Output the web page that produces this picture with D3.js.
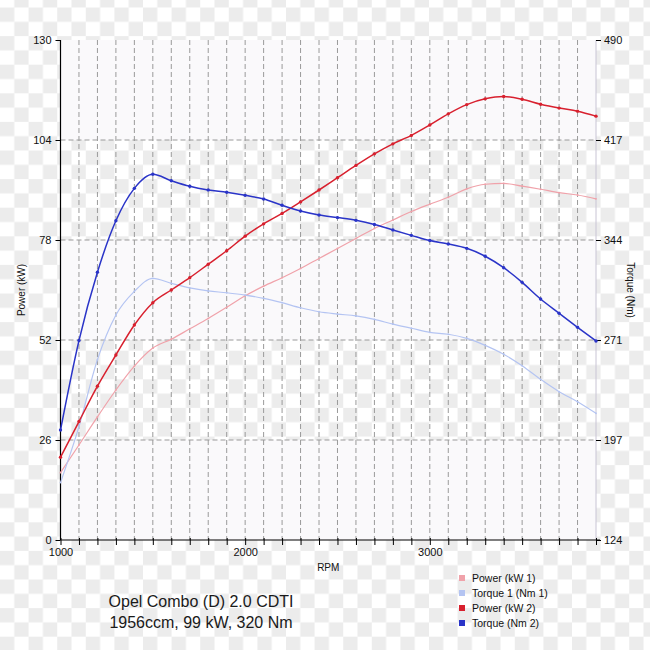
<!DOCTYPE html>
<html>
<head>
<meta charset="utf-8">
<script src="https://cdn.jsdelivr.net/npm/d3@7"></script>
<style>
html,body{margin:0;padding:0;background:#fff;}
svg{display:block;font-family:"Liberation Sans",Arial,sans-serif;}
</style>
</head>
<body>
<svg id="chart" width="650" height="650"></svg>
<script>
// ---- data ----
const rpm = [1000,1100,1200,1300,1400,1500,1600,1700,1800,1900,2000,2100,2200,2300,2400,2500,2600,2700,2800,2900,3000,3100,3200,3300,3400,3500,3600,3700,3800,3900];
const power1 = [17.5,24.7,32.0,39.0,45.2,49.9,52.2,54.9,57.6,60.5,63.5,66.0,68.2,70.6,73.2,75.8,78.4,81.0,83.2,85.4,87.3,89.1,91.3,92.5,92.7,92.0,91.2,90.3,89.7,88.7];
const torque1 = [166,207,256,288.7,306,315.5,311.9,308.5,306.3,305,303.3,300.9,297.7,294,291.1,289.4,288,285.5,282,279,276,274.6,271.6,266.5,260,251.5,241.6,232.6,225.2,216.7];
const power2 = [21.5,30.8,40.0,48.1,55.9,61.7,65.0,68.2,71.7,75.2,79.0,82.2,84.9,87.9,91.0,94.2,97.4,100.4,103.0,105.2,107.9,110.8,113.2,114.7,115.3,114.6,113.3,112.3,111.5,110.2];
const torque2 = [204.5,270,320,357.7,381.4,391.7,387,382.9,380.2,378.5,376.3,373.6,369,364.8,361.9,360,358,355,350.9,347,343.2,340.7,337.5,331.7,323.3,312.6,300.4,290,279.7,269.7];
const leftTicks = [0,26,52,78,104,130];
const rightTickLabels = ["124","197","271","344","417","490"];
const xLabelTicks = [1000,2000,3000];
const seriesNames = ["Power (kW 1)","Torque 1 (Nm 1)","Power (kW 2)","Torque (Nm 2)"];
const seriesColors = ["#f0a2aa","#b4c4f2","#d8202e","#2a34c8"];
const titleLines = ["Opel Combo (D) 2.0 CDTI","1956ccm, 99 kW, 320 Nm"];

// ---- layout ----
const svg = d3.select("#chart");
const L = 60.5, R = 596, T = 40, B = 540;
const x = d3.scaleLinear().domain([1000,3900]).range([L,R]);
const yL = d3.scaleLinear().domain([0,130]).range([B,T]);
const yR = d3.scaleLinear().domain([124,490]).range([B,T]);

// checkerboard background
const defs = svg.append("defs");
const cs = 14.3;
const pat = defs.append("pattern").attr("id","chk").attr("patternUnits","userSpaceOnUse")
  .attr("x",0).attr("y",7.5).attr("width",cs*2).attr("height",cs*2);
pat.append("rect").attr("width",cs*2).attr("height",cs*2).attr("fill","#ffffff");
pat.append("rect").attr("x",0).attr("y",0).attr("width",cs).attr("height",cs).attr("fill","#ececec");
pat.append("rect").attr("x",cs).attr("y",cs).attr("width",cs).attr("height",cs).attr("fill","#ececec");
svg.append("rect").attr("width",650).attr("height",650).attr("fill","url(#chk)");

// light bands in plot area
const bands = [[104,130],[52,78],[0,26]];
svg.append("g").selectAll("rect").data(bands).join("rect")
  .attr("x",L).attr("width",R-L)
  .attr("y",d=>yL(d[1])).attr("height",d=>yL(d[0])-yL(d[1]))
  .attr("fill","#faf9fb");

// vertical grid
const gridX = rpm.filter(v=>v>1000 && v<3900);
svg.append("g").selectAll("line").data(gridX).join("line")
  .attr("x1",d=>x(d)).attr("x2",d=>x(d)).attr("y1",T).attr("y2",B)
  .attr("stroke","#9a9a9a").attr("stroke-width",1).attr("stroke-dasharray","5,3");
// horizontal grid
svg.append("g").selectAll("line").data(leftTicks.filter(v=>v>0&&v<130)).join("line")
  .attr("x1",L).attr("x2",R).attr("y1",d=>yL(d)).attr("y2",d=>yL(d))
  .attr("stroke","#9a9a9a").attr("stroke-width",1).attr("stroke-dasharray","5,3");

// right axis line (light)
svg.append("line").attr("x1",R).attr("x2",R).attr("y1",T).attr("y2",B)
  .attr("stroke","#c8c4d4").attr("stroke-width",1);

// axes
const axL = d3.axisLeft(yL).tickValues(leftTicks).tickSize(5).tickPadding(4);
const gL = svg.append("g").attr("transform",`translate(${L},0)`).call(axL);
const rightVals = rightTickLabels.map((s,i)=>124 + i*(490-124)/5);
const axR = d3.axisRight(yR).tickValues(rightVals).tickSize(5).tickPadding(3)
  .tickFormat((d,i)=>rightTickLabels[i]);
const gR = svg.append("g").attr("transform",`translate(${R},0)`).call(axR);
gR.select(".domain").remove();
const axB = d3.axisBottom(x).tickValues(rpm).tickSize(5).tickPadding(3)
  .tickFormat(d=>xLabelTicks.includes(d)?d:"");
const gB = svg.append("g").attr("transform",`translate(0,${B})`).call(axB);
gB.selectAll(".tick line").attr("y1",-2);
[gL,gR,gB].forEach(g=>{
  g.selectAll("text").attr("font-size",11).attr("fill","#111").attr("font-family","Liberation Sans, Arial, sans-serif");
  g.selectAll("line").attr("stroke","#000");
  g.select(".domain").attr("stroke","#000").attr("stroke-width",1.2);
});
gL.select(".domain").attr("d",`M0,${T}V${B}`);
gB.select(".domain").attr("d",`M${L},0H${R+4}`);

// axis titles
svg.append("text").attr("transform",`translate(25,${(T+B)/2}) rotate(-90)`)
  .attr("text-anchor","middle").attr("font-size",10).attr("fill","#111").text("Power (kW)");
svg.append("text").attr("transform",`translate(627,${(T+B)/2}) rotate(90)`)
  .attr("text-anchor","middle").attr("font-size",10).attr("fill","#111").text("Torque (Nm)");
svg.append("text").attr("x",(L+R)/2).attr("y",571).attr("text-anchor","middle")
  .attr("font-size",10).attr("fill","#111").text("RPM");

// series
const series = [
  {vals:power1, y:yL, color:seriesColors[0], w:1.2, r:0.9},
  {vals:torque1, y:yR, color:seriesColors[1], w:1.2, r:0.9},
  {vals:power2, y:yL, color:seriesColors[2], w:1.5, r:1.7},
  {vals:torque2, y:yR, color:seriesColors[3], w:1.5, r:1.7}
];
series.forEach(s=>{
  const pts = rpm.map((r,i)=>[r,s.vals[i]]);
  const line = d3.line().x(d=>x(d[0])).y(d=>s.y(d[1])).curve(d3.curveMonotoneX);
  svg.append("path").datum(pts).attr("d",line).attr("fill","none")
    .attr("stroke",s.color).attr("stroke-width",s.w);
  svg.append("g").selectAll("circle").data(pts).join("circle")
    .attr("cx",d=>x(d[0])).attr("cy",d=>s.y(d[1])).attr("r",s.r).attr("fill",s.color);
});

// title
svg.append("g").selectAll("text").data(titleLines).join("text")
  .attr("x",201).attr("y",(d,i)=>607+i*21).attr("text-anchor","middle")
  .attr("font-size",16).attr("fill","#1a1a1a").text(d=>d);

// legend
const lg = svg.append("g").attr("transform","translate(459,578)");
seriesNames.forEach((n,i)=>{
  lg.append("rect").attr("x",0).attr("y",i*15-3).attr("width",6).attr("height",6).attr("fill",seriesColors[i]);
  lg.append("text").attr("x",13).attr("y",i*15+4).attr("font-size",10.5).attr("fill","#111").text(n);
});
</script>
</body>
</html>
